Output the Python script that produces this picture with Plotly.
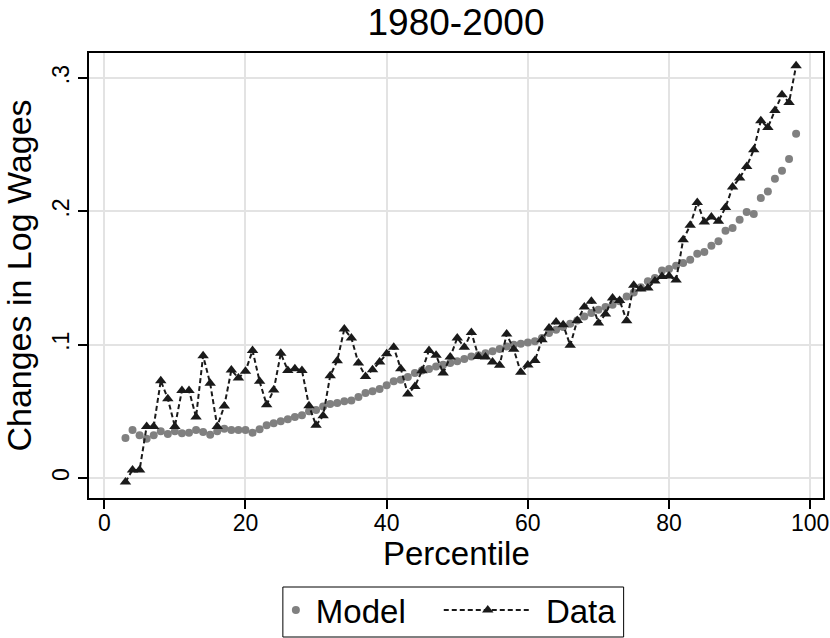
import plotly.graph_objects as go

percentile = list(range(3, 99))

model = [0.030, 0.036, 0.032, 0.0295, 0.032, 0.035, 0.033, 0.035, 0.0335, 0.034,
         0.036, 0.0345, 0.0325, 0.035, 0.037, 0.036, 0.036, 0.036, 0.034, 0.0365,
         0.0395, 0.041, 0.0425, 0.044, 0.0457, 0.047, 0.050, 0.051, 0.0537, 0.0555,
         0.0562, 0.0575, 0.0582, 0.0607, 0.0637, 0.065, 0.0667, 0.0695, 0.0725, 0.0737,
         0.0757, 0.0787, 0.0807, 0.0817, 0.0837, 0.085, 0.0862, 0.0875, 0.0892, 0.0912,
         0.092, 0.0935, 0.095, 0.0967, 0.0987, 0.100, 0.1007, 0.1017, 0.1025, 0.105,
         0.1087, 0.1112, 0.1132, 0.1157, 0.1182, 0.1212, 0.1237, 0.1262, 0.1282, 0.130,
         0.1325, 0.1362, 0.1392, 0.143, 0.1475, 0.150, 0.1557, 0.1567, 0.1592, 0.1612,
         0.1637, 0.1682, 0.1695, 0.1742, 0.1775, 0.1855, 0.1875, 0.1937, 0.1995, 0.198,
         0.210, 0.215, 0.2245, 0.2305, 0.2392, 0.2582]

data = [-0.003, 0.006, 0.006, 0.0387, 0.0387, 0.073, 0.0595, 0.0387, 0.0657, 0.0657,
        0.0457, 0.0917, 0.071, 0.0387, 0.054, 0.081, 0.075, 0.080, 0.0957, 0.0725,
        0.055, 0.066, 0.0935, 0.0807, 0.082, 0.0807, 0.0542, 0.0395, 0.0467, 0.0767,
        0.088, 0.1117, 0.105, 0.0862, 0.0762, 0.0812, 0.087, 0.0932, 0.098, 0.082,
        0.063, 0.0687, 0.0805, 0.0957, 0.092, 0.0787, 0.0907, 0.105, 0.098, 0.1092,
        0.0912, 0.0907, 0.0870, 0.0845, 0.108, 0.0965, 0.0793, 0.0848, 0.0882, 0.1037,
        0.1125, 0.117, 0.115, 0.0995, 0.1182, 0.1282, 0.1325, 0.1162, 0.123, 0.135,
        0.1332, 0.118, 0.1445, 0.1417, 0.1425, 0.1478, 0.1512, 0.1515, 0.1485, 0.1787,
        0.1895, 0.2067, 0.192, 0.1957, 0.1925, 0.203, 0.2182, 0.225, 0.2337, 0.2462,
        0.268, 0.263, 0.2757, 0.2875, 0.2817, 0.3092]

x_ticks = [0, 20, 40, 60, 80, 100]
y_ticks = [0, 0.1, 0.2, 0.3]
y_tick_text = ["0", ".1", ".2", ".3"]

FONT = "Liberation Sans, Arial, sans-serif"

# plot area in pixels
L, R, T, B = 89, 823.5, 53, 498
W_PLOT, H_PLOT = R - L, B - T


def px_x(p):
    return (p - L) / W_PLOT


def px_y(p):
    return (B - p) / H_PLOT


fig = go.Figure()
fig.add_trace(go.Scatter(
    x=percentile, y=model, mode="markers", name="Model", legend="legend",
    marker=dict(color="#808080", size=8, symbol="circle", line=dict(width=0)),
))
fig.add_trace(go.Scatter(
    x=percentile, y=data, mode="lines+markers", name=" Data", legend="legend2",
    line=dict(color="#1a1a1a", width=2, dash="5px,3px"),
    marker=dict(color="#1a1a1a", size=10, symbol="triangle-up", line=dict(width=0)),
))

legend_common = dict(orientation="h", yanchor="top", bgcolor="rgba(0,0,0,0)",
                     borderwidth=0, font=dict(size=33, family=FONT, color="black"))

fig.update_layout(
    width=830, height=638,
    margin=dict(l=L, r=830 - R, t=T, b=638 - B, autoexpand=False),
    paper_bgcolor="white", plot_bgcolor="white",
    font=dict(family=FONT, color="black"),
    title=dict(text="1980-2000", x=0.5, xref="paper", xanchor="center",
               y=1 - 22 / 638, yanchor="middle",
               font=dict(size=37, family=FONT, color="black")),
    showlegend=True,
    legend=dict(x=px_x(276), y=px_y(582), xanchor="left", itemwidth=30, **legend_common),
    legend2=dict(x=px_x(439), y=px_y(582), xanchor="left", itemwidth=88, **legend_common),
    shapes=[dict(type="rect", xref="paper", yref="paper",
                 x0=px_x(283), x1=px_x(624), y0=px_y(637), y1=px_y(587),
                 line=dict(color="black", width=1), fillcolor="rgba(0,0,0,0)")],
    annotations=[dict(text="Percentile", xref="paper", yref="paper",
                      x=0.5, y=px_y(553), xanchor="center", yanchor="middle",
                      showarrow=False, font=dict(size=33, family=FONT, color="black"))],
)

fig.update_xaxes(
    range=[-2.166, 101.81], tickvals=x_ticks, ticktext=[str(v) for v in x_ticks],
    showgrid=True, gridcolor="#e3e3e3", gridwidth=1.8, zeroline=False,
    showline=True, linecolor="black", linewidth=1.5, mirror=True,
    ticks="outside", ticklen=9, tickwidth=1.5, tickcolor="black",
    ticklabelstandoff=-5,
    tickfont=dict(size=23, family=FONT, color="black"),
)
fig.update_yaxes(
    range=[-0.015, 0.3188], tickvals=y_ticks, ticktext=y_tick_text, tickangle=-90,
    showgrid=True, gridcolor="#e3e3e3", gridwidth=1.8, zeroline=False,
    showline=True, linecolor="black", linewidth=1.5, mirror=True,
    ticks="outside", ticklen=9, tickwidth=1.5, tickcolor="black",
    tickfont=dict(size=23, family=FONT, color="black"),
    title=dict(text="Changes in Log Wages", font=dict(size=34, family=FONT, color="black"), standoff=10),
)

fig.write_html("out.html")
